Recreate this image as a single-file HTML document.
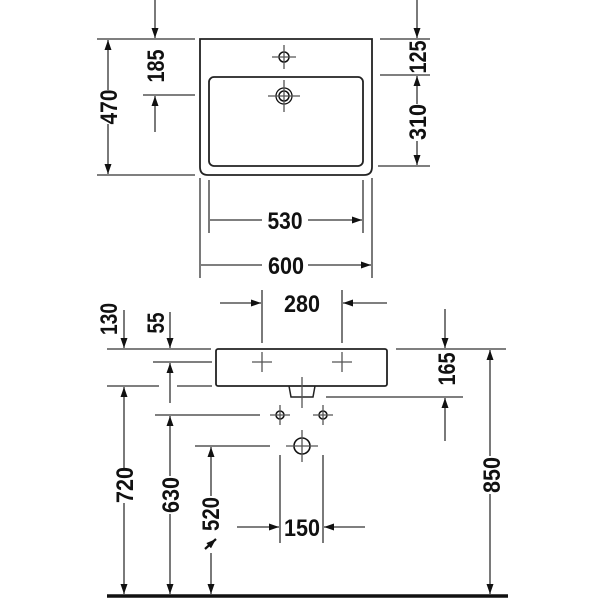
<!DOCTYPE html>
<html><head><meta charset="utf-8"><style>
html,body{margin:0;padding:0;background:#fff}
svg{display:block}
text{font-family:"Liberation Sans",sans-serif;font-weight:bold;font-size:24px;fill:#111}
</style></head><body>
<svg width="600" height="600" viewBox="0 0 600 600" xmlns="http://www.w3.org/2000/svg">
<defs>
<marker id="a" viewBox="0 0 10 10" refX="10" refY="5" markerWidth="10" markerHeight="10" markerUnits="userSpaceOnUse" orient="auto-start-reverse">
<path d="M0,1.5 L10,5 L0,8.5 Z" fill="#111"/></marker>
</defs>
<g stroke="#333" stroke-width="1.3" fill="none">
<!-- top view basin -->
<path d="M200,39 H372 V167 Q372,175 364,175 H208 Q200,175 200,167 Z" stroke="#222" stroke-width="1.8"/>
<rect x="209" y="77" width="154" height="89" rx="5" stroke="#222" stroke-width="1.8"/>
<circle cx="284" cy="57" r="5" stroke="#111" stroke-width="1.5"/>
<path d="M272,57H296M284,45V69" stroke="#555"/>
<circle cx="284" cy="96" r="8" stroke="#111"/>
<circle cx="284" cy="96" r="5" stroke="#111" stroke-width="1.5"/>
<path d="M268,96H300M284,80V112" stroke="#555"/>
<!-- left dims top -->
<path d="M97,39H195M97,175H195M143,95H195"/>
<path d="M108,40V90M108,124V174" marker-start="url(#a)" marker-end="url(#a)"/>
<path d="M155,0V38" marker-end="url(#a)"/>
<path d="M155,132V96" marker-end="url(#a)"/>
<!-- right dims top -->
<path d="M380,39H430M380,75H430M378,166H430"/>
<path d="M417,0V38" marker-end="url(#a)"/>
<path d="M417,104V76" marker-end="url(#a)"/>
<path d="M417,141V165" marker-end="url(#a)"/>
<!-- bottom ext -->
<path d="M200,178V278M372,178V278M209,180V233M363,180V233"/>
<path d="M262,220H210M308,220H362" marker-end="url(#a)"/>
<path d="M262,265H201M308,265H371" marker-end="url(#a)"/>
<!-- front view -->
<path d="M262,290V343M342,290V343"/>
<path d="M220,303H261" marker-end="url(#a)"/>
<path d="M387,303H343" marker-end="url(#a)"/>
<rect x="216" y="349" width="171" height="37" rx="2" stroke="#222" stroke-width="1.8"/>
<path d="M289,386L291,397H313L315,386" stroke="#222" stroke-width="1.5"/>
<path d="M302,377V408" stroke="#555"/>
<path d="M252,362H272M262,352V372M332,362H352M342,352V372" stroke="#555"/>
<path d="M107,349H211M396,349H506M153,362H212M107,386H159M177,386H212M326,397H463M155,415H260M195,446H270"/>
<circle cx="280" cy="415" r="4" stroke="#111" stroke-width="1.5"/>
<circle cx="323" cy="415" r="4" stroke="#111" stroke-width="1.5"/>
<path d="M270,415H290M280,405V425M313,415H333M323,405V425" stroke="#555"/>
<circle cx="302" cy="446" r="8" stroke="#111" stroke-width="1.6"/>
<path d="M286,446H318M302,430V462" stroke="#555"/>
<path d="M280,455V543M323,455V543"/>
<path d="M237,527H279" marker-end="url(#a)"/>
<path d="M365,527H324" marker-end="url(#a)"/>
<!-- vertical dims -->
<path d="M124,310V348" marker-end="url(#a)"/>
<path d="M124,387V470M124,503V594" marker-start="url(#a)" marker-end="url(#a)"/>
<path d="M170,312V348" marker-end="url(#a)"/>
<path d="M170,403V363" marker-end="url(#a)"/>
<path d="M170,416V476M170,514V594" marker-start="url(#a)" marker-end="url(#a)"/>
<path d="M211,447V496M211,553V594" marker-start="url(#a)" marker-end="url(#a)"/>
<path d="M445,309V348" marker-end="url(#a)"/>
<path d="M445,441V398" marker-end="url(#a)"/>
<path d="M490,350V456M490,494V594" marker-start="url(#a)" marker-end="url(#a)"/>
<path d="M205,549L216,539" stroke="#111" stroke-width="2.2" marker-end="url(#a)"/>
</g>
<line x1="107" y1="596" x2="508" y2="596" stroke="#111" stroke-width="3.5"/>
<g text-anchor="middle">
<text x="285" y="229" textLength="35" lengthAdjust="spacingAndGlyphs">530</text>
<text x="286" y="274" textLength="36" lengthAdjust="spacingAndGlyphs">600</text>
<text x="302" y="312" textLength="36" lengthAdjust="spacingAndGlyphs">280</text>
<text x="302" y="536" textLength="36" lengthAdjust="spacingAndGlyphs">150</text>
<text transform="translate(117,107) rotate(-90)" textLength="35" lengthAdjust="spacingAndGlyphs">470</text>
<text transform="translate(164,66) rotate(-90)" textLength="33" lengthAdjust="spacingAndGlyphs">185</text>
<text transform="translate(426,57) rotate(-90)" textLength="33" lengthAdjust="spacingAndGlyphs">125</text>
<text transform="translate(426,122) rotate(-90)" textLength="36" lengthAdjust="spacingAndGlyphs">310</text>
<text transform="translate(117,319) rotate(-90)" textLength="32" lengthAdjust="spacingAndGlyphs">130</text>
<text transform="translate(164,323) rotate(-90)" textLength="21" lengthAdjust="spacingAndGlyphs">55</text>
<text transform="translate(133,485) rotate(-90)" textLength="36" lengthAdjust="spacingAndGlyphs">720</text>
<text transform="translate(179,495) rotate(-90)" textLength="36" lengthAdjust="spacingAndGlyphs">630</text>
<text transform="translate(219,514) rotate(-90)" textLength="34" lengthAdjust="spacingAndGlyphs">520</text>
<text transform="translate(455,369) rotate(-90)" textLength="33" lengthAdjust="spacingAndGlyphs">165</text>
<text transform="translate(500,475) rotate(-90)" textLength="36" lengthAdjust="spacingAndGlyphs">850</text>
</g>
</svg>
</body></html>
